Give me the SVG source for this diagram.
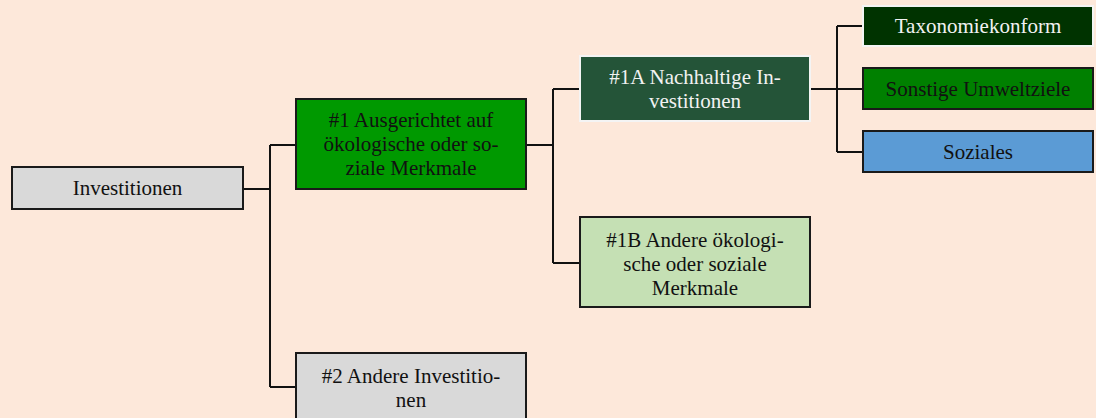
<svg xmlns="http://www.w3.org/2000/svg" width="1096" height="418" viewBox="0 0 1096 418">
<style>
.box{stroke:#1a1a1a;stroke-width:2}
.lbox{stroke:#f4f4f4;stroke-width:2}
.t{font-family:"Liberation Serif","Times New Roman",serif;font-size:21px;text-anchor:middle;fill:#111}
.w{fill:#f2f2f2}
.c{fill:none;stroke:#111;stroke-width:2}
</style>
<rect width="1096" height="418" fill="#fde8da"/>
<g id="connectors">
<path class="c" d="M243,189 H270 M270,145 V387 M270,145 H296 M270,387 H296"/>
<path class="c" d="M526,145 H553 M553,89 V263 M553,89 H580 M553,263 H580"/>
<path class="c" d="M810,89 H863 M837,26 V152 M837,26 H863 M837,152 H863"/>
</g>
<g id="n-investitionen">
<rect class="box" x="12" y="167" width="231" height="42" fill="#d9d9d9"/>
<text class="t" x="127.5" y="195">Investitionen</text>
</g>
<g id="n-1">
<rect class="box" x="296" y="99" width="230" height="90" fill="#009900"/>
<text class="t" x="411" y="127">#1 Ausgerichtet auf</text>
<text class="t" x="411" y="151">ökologische oder so-</text>
<text class="t" x="411" y="175">ziale Merkmale</text>
</g>
<g id="n-1a">
<rect class="lbox" x="580" y="56" width="230" height="65" fill="#245438"/>
<text class="t w" x="695" y="84">#1A Nachhaltige In-</text>
<text class="t w" x="695" y="108">vestitionen</text>
</g>
<g id="n-1b">
<rect class="box" x="580" y="217" width="230" height="90" fill="#c5e0b4"/>
<text class="t" x="695" y="247">#1B Andere ökologi-</text>
<text class="t" x="695" y="271">sche oder soziale</text>
<text class="t" x="695" y="295">Merkmale</text>
</g>
<g id="n-2">
<rect class="box" x="296" y="353" width="230" height="90" fill="#d9d9d9"/>
<text class="t" x="411" y="383">#2 Andere Investitio-</text>
<text class="t" x="411" y="407">nen</text>
</g>
<g id="n-taxonomie">
<rect class="lbox" x="863" y="6" width="230" height="40" fill="#003300"/>
<text class="t w" x="978" y="33">Taxonomiekonform</text>
</g>
<g id="n-sonstige">
<rect class="box" x="863" y="68" width="230" height="41" fill="#008000"/>
<text class="t" x="978" y="96">Sonstige Umweltziele</text>
</g>
<g id="n-soziales">
<rect class="box" x="863" y="131" width="230" height="41" fill="#5b9bd5"/>
<text class="t" x="978" y="159">Soziales</text>
</g>
</svg>
